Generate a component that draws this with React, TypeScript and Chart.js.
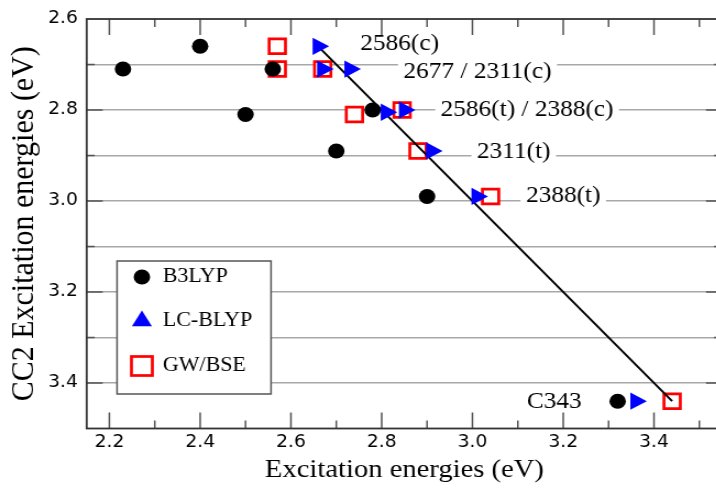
import React, { useEffect, useRef } from 'react';
import { Chart, registerables } from 'chart.js';

Chart.register(...registerables);

// ---- data ----
const b3lypX = [2.23, 2.40, 2.50, 2.56, 2.70, 2.78, 2.90, 3.32];
const b3lypY = [2.71, 2.66, 2.81, 2.71, 2.89, 2.80, 2.99, 3.44];

const lcblypX = [2.66, 2.67, 2.73, 2.81, 2.85, 2.91, 3.01, 3.36];
const lcblypY = [2.66, 2.71, 2.71, 2.805, 2.80, 2.89, 2.99, 3.44];

const gwbseX = [2.57, 2.57, 2.67, 2.74, 2.845, 2.88, 3.04, 3.44];
const gwbseY = [2.66, 2.71, 2.71, 2.81, 2.80, 2.89, 2.99, 3.44];

const diagX = [2.66, 3.44];
const diagY = [2.66, 3.44];

const annoLabels = ['2586(c)', '2677 / 2311(c)', '2586(t) / 2388(c)', '2311(t)', '2388(t)', 'C343'];
const annoX = [2.753, 2.848, 2.93, 3.01, 3.118, 3.12];
const annoY = [2.655, 2.716, 2.8, 2.892, 2.989, 3.441];

const xTickValues = [2.2, 2.3, 2.4, 2.5, 2.6, 2.7, 2.8, 2.9, 3.0, 3.1, 3.2, 3.3, 3.4, 3.5];
const xTickLabels = ['2.2', '2.4', '2.6', '2.8', '3.0', '3.2', '3.4'];
const yTickValues = [2.6, 2.7, 2.8, 2.9, 3.0, 3.1, 3.2, 3.3, 3.4, 3.5];
const yTickLabels = ['2.6', '2.8', '3.0', '3.2', '3.4'];

const xTitle = 'Excitation energies (eV)';
const yTitle = 'CC2 Excitation energies (eV)';
const legendLabels = ['B3LYP', 'LC-BLYP', 'GW/BSE'];

// ---- layout ----
const S = 1.1; // horizontal stretch of the reference
const CW = 670;
const CH = 491;

const SERIF = '"Liberation Serif", "Times New Roman", serif';
const SANS = '"DejaVu Sans", sans-serif';

const pts = (xs: number[], ys: number[]) => xs.map((x, i) => ({ x, y: ys[i] }));

const decorPlugin = {
  id: 'decor',
  beforeDatasetsDraw(chart: any) {
    const { ctx, chartArea, scales } = chart;
    const xs = scales.x, ys = scales.y;
    ctx.save();
    // annotation labels with white background
    ctx.font = `23px ${SERIF}`;
    ctx.textBaseline = 'middle';
    ctx.textAlign = 'left';
    annoLabels.forEach((t, i) => {
      const px = xs.getPixelForValue(annoX[i]);
      const py = ys.getPixelForValue(annoY[i]);
      const w = ctx.measureText(t).width;
      ctx.fillStyle = '#fff';
      ctx.fillRect(px - 5, py - 11, w + 10, 22);
      ctx.fillStyle = '#000';
      ctx.fillText(t, px, py);
    });
    // legend box
    const lx = chartArea.left + 27.6;
    const ly = chartArea.bottom - 167.5;
    const lw = 140, lh = 133;
    ctx.fillStyle = '#fff';
    ctx.fillRect(lx, ly, lw, lh);
    ctx.strokeStyle = '#555';
    ctx.lineWidth = 1.5;
    ctx.strokeRect(lx, ly, lw, lh);
    const rows = [16, 60, 105];
    const sx = lx + 22.6;
    const tx = lx + 41.6;
    ctx.font = `20px ${SERIF}`;
    legendLabels.forEach((lab, i) => {
      const cy = ly + rows[i];
      const ds = chart.data.datasets.find((d: any) => d.label === lab);
      if (lab === 'B3LYP') {
        ctx.fillStyle = ds.backgroundColor;
        ctx.beginPath();
        ctx.arc(sx, cy, 7.5, 0, Math.PI * 2);
        ctx.fill();
      } else if (lab === 'LC-BLYP') {
        const r = 10.5;
        ctx.fillStyle = ds.backgroundColor;
        ctx.beginPath();
        ctx.moveTo(sx, cy - r);
        ctx.lineTo(sx + Math.sin((2 * Math.PI) / 3) * r, cy + r / 2);
        ctx.lineTo(sx - Math.sin((2 * Math.PI) / 3) * r, cy + r / 2);
        ctx.closePath();
        ctx.fill();
      } else {
        ctx.strokeStyle = ds.borderColor;
        ctx.lineWidth = 2.7;
        ctx.strokeRect(sx - 9.5, cy - 9.5, 19, 19);
      }
      ctx.fillStyle = '#000';
      ctx.fillText(lab, tx, cy);
    });
    ctx.restore();
  },
  afterDraw(chart: any) {
    const { ctx, chartArea, scales } = chart;
    const { left, right, top, bottom } = chartArea;
    ctx.save();
    ctx.strokeStyle = '#555';
    ctx.lineWidth = 1.5;
    ctx.beginPath();
    xTickValues.forEach((v) => {
      const px = scales.x.getPixelForValue(v);
      const major = xTickLabels.includes(v.toFixed(1));
      const len = major ? 16 : 8;
      ctx.moveTo(px, bottom);
      ctx.lineTo(px, bottom - len);
      ctx.moveTo(px, top);
      ctx.lineTo(px, top + len);
    });
    yTickValues.forEach((v) => {
      if (v <= 2.6 + 1e-9 || v >= 3.5 - 1e-9) return;
      const py = scales.y.getPixelForValue(v);
      const major = yTickLabels.includes(v.toFixed(1));
      const len = (major ? 16 : 8) / S;
      ctx.moveTo(left, py);
      ctx.lineTo(left + len, py);
      ctx.moveTo(right, py);
      ctx.lineTo(right - len, py);
    });
    ctx.stroke();
    ctx.strokeStyle = '#333';
    ctx.lineWidth = 1.8;
    ctx.strokeRect(left, top, right - left, bottom - top);
    ctx.restore();
  },
};

export default function App() {
  const ref = useRef<HTMLCanvasElement>(null);
  useEffect(() => {
    const chart = new Chart(ref.current as HTMLCanvasElement, {
      type: 'scatter',
      data: {
        datasets: [
          {
            label: 'LC-BLYP',
            data: pts(lcblypX, lcblypY),
            pointStyle: 'triangle',
            pointRotation: 90,
            pointRadius: 10,
            backgroundColor: '#0000ff',
            borderColor: '#0000ff',
            borderWidth: 0,
            order: 0,
          },
          {
            label: 'B3LYP',
            data: pts(b3lypX, b3lypY),
            pointStyle: 'circle',
            pointRadius: 7.5,
            backgroundColor: '#000000',
            borderColor: '#000000',
            borderWidth: 0,
            order: 1,
          },
          {
            label: 'y = x',
            data: pts(diagX, diagY),
            showLine: true,
            borderColor: '#000000',
            borderWidth: 2,
            pointRadius: 0,
            order: 2,
          },
          {
            label: 'GW/BSE',
            data: pts(gwbseX, gwbseY),
            pointStyle: 'rect',
            pointRadius: 10.5,
            backgroundColor: '#ffffff',
            borderColor: '#ff0000',
            borderWidth: 2.7,
            order: 3,
          },
        ] as any,
      },
      options: {
        animation: false,
        responsive: false,
        layout: { padding: { top: 19, right: CW - 656.4, left: 0, bottom: 0 } },
        plugins: { legend: { display: false }, tooltip: { enabled: false } },
        scales: {
          x: {
            type: 'linear',
            min: 2.15,
            max: 3.55,
            afterBuildTicks: (s: any) => {
              s.ticks = xTickValues.map((v) => ({ value: v }));
            },
            afterFit: (s: any) => {
              s.height = CH - 428.5;
            },
            grid: { display: false, drawTicks: false },
            border: { display: false },
            ticks: {
              autoSkip: false,
              maxRotation: 0,
              padding: 4,
              color: '#000',
              font: { family: SANS, size: 17 },
              callback: (v: any) => {
                const s = Number(v).toFixed(1);
                return xTickLabels.includes(s) ? s : '';
              },
            },
            title: {
              display: true,
              text: xTitle,
              color: '#000',
              font: { family: SERIF, size: 26 },
              padding: { top: 0, bottom: 5 },
            },
          },
          y: {
            type: 'linear',
            reverse: true,
            min: 2.6,
            max: 3.5,
            afterBuildTicks: (s: any) => {
              s.ticks = yTickValues.map((v) => ({ value: v }));
            },
            afterFit: (s: any) => {
              s.width = 78.8;
            },
            grid: {
              drawTicks: false,
              lineWidth: 1.5,
              color: (c: any) => {
                const v = c.tick ? c.tick.value : 0;
                return v <= 2.6 + 1e-9 || v >= 3.5 - 1e-9 ? 'rgba(0,0,0,0)' : '#a8a8a8';
              },
            },
            border: { display: false },
            ticks: {
              autoSkip: false,
              padding: 8,
              color: '#000',
              font: { family: SANS, size: 17 },
              callback: (v: any) => {
                const s = Number(v).toFixed(1);
                return yTickLabels.includes(s) ? s : '';
              },
            },
            title: {
              display: true,
              text: yTitle,
              color: '#000',
              font: { family: SERIF, size: 30 },
              padding: { top: 4, bottom: 0 },
            },
          },
        },
      } as any,
      plugins: [decorPlugin],
    });
    return () => chart.destroy();
  }, []);

  return (
    <div
      style={{
        position: 'fixed',
        left: 0,
        top: 0,
        width: 716,
        height: CH,
        overflow: 'hidden',
        background: '#fff',
      }}
    >
      <div style={{ width: CW, height: CH, transform: `scaleX(${S})`, transformOrigin: '0 0' }}>
        <canvas ref={ref} width={CW} height={CH} style={{ display: 'block' }} />
      </div>
    </div>
  );
}
